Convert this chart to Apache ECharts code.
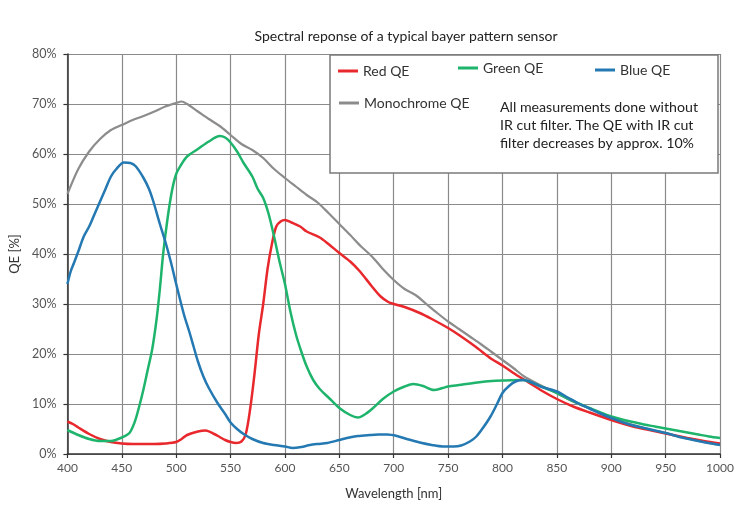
<!DOCTYPE html>
<html>
<head>
<meta charset="utf-8">
<script src="https://cdn.jsdelivr.net/npm/echarts@6/dist/echarts.min.js"></script>
<style>html,body{margin:0;padding:0;background:#fff;}#c{width:743px;height:513px;}</style>
</head>
<body>
<div id="c"></div>
<script>
const xTicks = [400,450,500,550,600,650,700,750,800,850,900,950,1000];
const yTicks = [0,10,20,30,40,50,60,70,80];

const monoX = [400,410,420,430,440,450,460,470,480,490,500,505,510,520,530,540,550,560,570,580,590,600,610,620,630,640,650,660,670,680,690,700,710,720,730,740,750,760,770,780,790,800,810,820,830,840,850,860,870,880,890,900,910,920,930,940,950,960,970,980,990,1000];
const monoY = [52,57,60.5,63,64.8,65.8,66.8,67.6,68.5,69.5,70.2,70.5,70,68.5,67,65.6,63.8,62,60.8,59.2,57,55.2,53.5,51.8,50.3,48.2,46,43.8,41.5,39.5,37,34.8,33,31.8,30,28.2,26.5,25,23.5,22,20.4,18.8,17.2,15.5,14.3,13.2,12.2,11,10,9.1,8.1,7.2,6.5,5.8,5.2,4.7,4.2,3.6,3.1,2.6,2.2,1.8];

const redX = [400,405,410,420,430,440,450,460,470,480,490,500,505,510,520,527,535,540,545,550,555,560,564,568,572,576,580,584,588,592,596,600,606,614,620,632,640,650,660,669,680,688,695,700,710,724,735,750,760,775,790,800,810,822,835,850,865,880,900,920,935,950,970,985,1000];
const redY = [6.5,6,5.3,4,3,2.4,2.1,2,2,2,2.1,2.4,3,3.8,4.5,4.7,4,3.4,2.8,2.4,2.2,2.5,4,9,16,24,30,37,42,45.5,46.5,46.8,46.3,45.5,44.5,43.3,42,40.2,38.5,36.5,33.5,31.5,30.4,30,29.4,28.2,27,25.2,23.8,21.5,19,17.7,16.2,14.6,12.8,11,9.5,8.3,6.8,5.5,4.8,4.1,3.2,2.6,2.1];

const greenX = [400,410,420,430,440,450,457,462,466,470,474,478,482,485,488,492,496,500,505,510,520,530,540,545,550,556,562,570,575,580,585,590,595,600,605,610,615,620,626,632,640,650,660,667,674,681,690,700,710,718,727,737,745,750,760,777,790,800,819,830,840,850,860,870,880,890,900,910,920,930,940,950,960,970,980,990,1000];
const greenY = [4.8,3.8,3,2.6,2.6,3.3,4.2,6.5,9.5,13,17,21,27,33,40,47,52.5,56,58,59.5,61,62.5,63.6,63.3,62.3,60.5,58.2,55.5,53,51.2,48,43.5,38.5,34,28.5,24,20.5,17.5,14.8,13,11.3,9.2,7.8,7.3,8,9.2,11,12.5,13.5,14,13.6,12.8,13.2,13.5,13.8,14.3,14.6,14.7,14.8,14,13.1,12.2,11.1,10.1,9.2,8.3,7.5,6.9,6.4,5.9,5.5,5.1,4.7,4.3,3.9,3.5,3.2];

const blueX = [400,403,406,410,415,420,424,430,435,440,445,452,458,463,470,475,479,485,490,495,500,507,512,516,520,525,530,538,545,550,556,562,570,580,590,600,607,615,623,630,639,650,657,667,678,686,694,703,712,724,735,745,755,762,770,776,782,789,795,800,806,812,819,825,835,850,860,870,880,890,900,915,930,950,965,980,1000];
const blueY = [34,36.5,38.2,40.5,43.5,45.5,47.5,50.5,53,55.5,57,58.3,58.2,57.5,55.2,53,50.5,46,42.5,38.5,34,28,24.5,21.5,18.5,15.5,13.2,10.2,8,6.3,5,4,3,2.2,1.8,1.5,1.2,1.4,1.8,2,2.2,2.8,3.2,3.6,3.8,3.9,3.9,3.6,3,2.3,1.8,1.5,1.5,1.7,2.5,3.5,5.2,7.5,10,12.2,13.6,14.5,14.8,14.5,13.5,12.5,11.3,10.1,9.1,8.1,7.2,6,5.2,4.2,3.3,2.6,1.8];

const pairs = (xs, ys) => xs.map((x, i) => [x, ys[i]]);
const FONT = 'Lato';
const chart = echarts.init(document.getElementById('c'), null, {renderer: 'canvas'});

function lg(name, left, top) {
  return {
    data: [name], left: left, top: top, icon: 'rect', itemWidth: 20, itemHeight: 3,
    textStyle: {fontFamily: FONT, fontSize: 14, color: '#333'}, itemGap: 0, z: 20, padding: 0, selectedMode: false
  };
}

chart.setOption({
  animation: false,
  backgroundColor: '#fff',
  title: {
    text: 'Spectral reponse of a typical bayer pattern sensor',
    left: 401, textAlign: 'center', top: 24,
    textStyle: {fontFamily: FONT, fontSize: 14, fontWeight: 'normal', color: '#222'}
  },
  grid: {left: 67, right: 23, top: 54, bottom: 59},
  legend: [
    lg('Red QE', 338, 64),
    lg('Green QE', 458, 61),
    lg('Blue QE', 595, 63),
    lg('Monochrome QE', 339, 96)
  ],
  graphic: [
    {type: 'rect', shape: {x: 330, y: 55, width: 388, height: 118}, style: {fill: '#fff', stroke: '#7a7a7a', lineWidth: 1.5}, z: 10},
    {type: 'text', x: 500, y: 98, z: 20, style: {text: 'All measurements done without\nIR cut filter. The QE with IR cut\nfilter decreases by approx. 10%', font: '14.2px Lato', fill: '#222', lineHeight: 18}}
  ],
  xAxis: {
    type: 'value', min: 400, max: 1000, interval: 50,
    name: 'Wavelength [nm]', nameLocation: 'middle', nameGap: 33,
    nameTextStyle: {fontFamily: FONT, fontSize: 13, color: '#333'},
    axisLine: {lineStyle: {color: '#333', width: 1.5}},
    axisTick: {show: true, inside: false, length: 4, lineStyle: {color: '#333', width: 1.2}},
    axisLabel: {fontFamily: FONT, fontSize: 12, color: '#555', margin: 8, formatter: v => String(v)},
    splitLine: {show: true, lineStyle: {color: '#8a8a8a', width: 1.2}}
  },
  yAxis: {
    type: 'value', min: 0, max: 80, interval: 10,
    name: 'QE [%]', nameLocation: 'middle', nameGap: 38, nameRotate: 90,
    nameTextStyle: {fontFamily: FONT, fontSize: 13, color: '#333'},
    axisLine: {show: true, lineStyle: {color: '#333', width: 1.5}},
    axisTick: {show: true, length: 4, lineStyle: {color: '#333', width: 1.2}},
    axisLabel: {fontFamily: FONT, fontSize: 12.5, color: '#555', formatter: '{value}%', margin: 11},
    splitLine: {show: true, lineStyle: {color: '#8a8a8a', width: 1.2}}
  },
  series: [
    {name: 'Monochrome QE', type: 'line', data: pairs(monoX, monoY), showSymbol: false, smooth: 0.3, color: '#8c8c8c', lineStyle: {width: 2.2, color: '#8c8c8c'}, z: 2},
    {name: 'Red QE', type: 'line', data: pairs(redX, redY), showSymbol: false, smooth: 0.3, color: '#e8282c', lineStyle: {width: 2.5, color: '#e8282c'}, z: 3},
    {name: 'Green QE', type: 'line', data: pairs(greenX, greenY), showSymbol: false, smooth: 0.3, color: '#1fb46c', lineStyle: {width: 2.5, color: '#1fb46c'}, z: 4},
    {name: 'Blue QE', type: 'line', data: pairs(blueX, blueY), showSymbol: false, smooth: 0.3, color: '#2479b2', lineStyle: {width: 2.5, color: '#2479b2'}, z: 5}
  ]
});
</script>
</body>
</html>
